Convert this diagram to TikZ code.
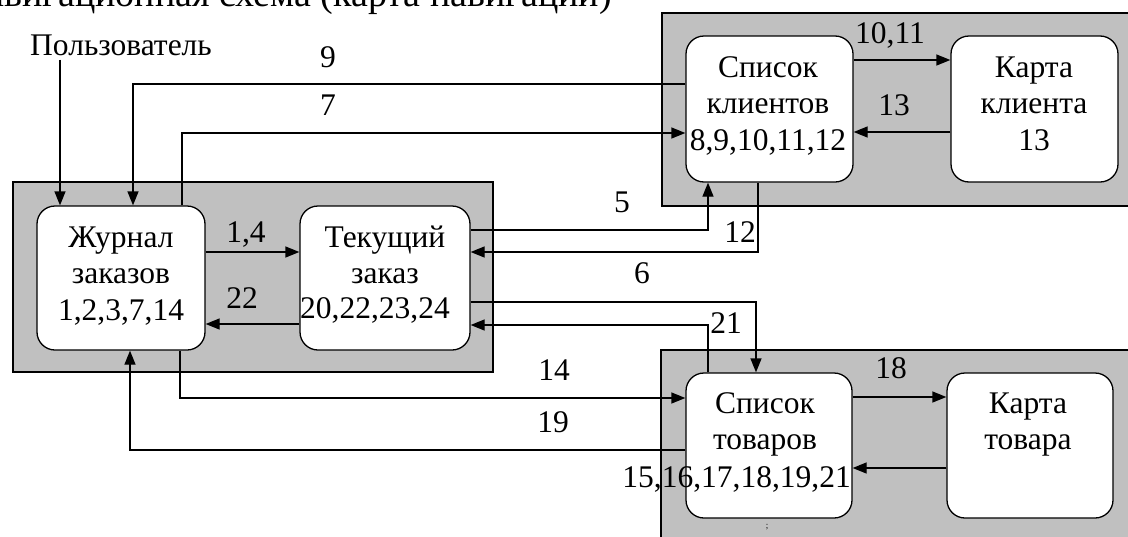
\documentclass[tikz,border=0pt]{standalone}
\usepackage{fontspec}
\setmainfont{Liberation Serif}
\usetikzlibrary{arrows.meta}
\newcommand{\mylines}[1]{\begin{tabular}[t]{@{}c@{}}#1\end{tabular}}
\definecolor{grp}{HTML}{C0C0C0}
\begin{document}
\begin{tikzpicture}[x=1pt,y=-1pt,
  every node/.style={inner sep=0pt, font=\fontsize{31.5}{36.5}\selectfont},
  grpbox/.style={draw=black, fill=grp, line width=1.3pt},
  box/.style={draw=black, fill=white, line width=1.3pt, rounded corners=18pt},
  ln/.style={line width=1.3pt},
  arr/.style={line width=1.3pt, -{Triangle[length=14pt,width=11pt]}},
  lbl/.style={anchor=base}]
\useasboundingbox (0,0) rectangle (1128,536);
\fill[white] (0,0) rectangle (1128,536);
% title (cut by the page edge)
\node[anchor=base east, font=\fontsize{38}{44}\selectfont] (title) at (612,6) {Навигационная схема (карта навигации)};
% groups
\draw[grpbox] (13,182) rectangle (493,372);
\draw[grpbox] (662,13) rectangle (1140,206);
\draw[grpbox] (661,350) rectangle (1140,550);
% boxes
\node[box, minimum width=168pt, minimum height=144pt] (zhurnal) at (121,278) {};
\node[box, minimum width=170pt, minimum height=144pt] (tekush) at (385,278) {};
\node[box, minimum width=167pt, minimum height=146pt] (spkl) at (769.5,109) {};
\node[box, minimum width=167pt, minimum height=146pt] (kartakl) at (1034.5,109) {};
\node[box, minimum width=166pt, minimum height=145pt] (sptov) at (769,445.5) {};
\node[box, minimum width=166pt, minimum height=145pt] (kartatov) at (1030,445.5) {};
% box texts
\node[anchor=base] (tzh) at (121,247) {\mylines{Журнал\\заказов\\1,2,3,7,14}};
\node[anchor=base] (tte) at (385,247) {\mylines{Текущий\\заказ}};
\node[anchor=base] (tte2) at (375,318) {20,22,23,24};
\node[anchor=base] (tspkl) at (768,77) {\mylines{Список\\клиентов\\8,9,10,11,12}};
\node[anchor=base] (tkkl) at (1034,77) {\mylines{Карта\\клиента\\13}};
\node[anchor=base] (tsptov) at (765,413) {\mylines{Список\\товаров}};
\node[anchor=base east] (tsptov2) at (851,487) {15,16,17,18,19,21};
\node[anchor=base] (tktov) at (1028,413) {\mylines{Карта\\товара}};
\node[anchor=base, font=\fontsize{9}{10}\selectfont] (mark) at (767,528) {;};
% user
\node[anchor=base west] (user) at (30,55) {Пользователь};
\draw[arr] ([xshift=30pt,yshift=-4pt]user.south west) -- (60,0 |- zhurnal.north);
% connectors
\draw[arr] (spkl.west |- 0,84) -| (133,0 |- zhurnal.north);
\draw[arr] (182,0 |- zhurnal.north) |- (spkl.west |- 0,133);
\draw[arr] (zhurnal.east |- 0,252) -- (tekush.west |- 0,252);
\draw[arr] (tekush.west |- 0,324) -- (zhurnal.east |- 0,324);
\draw[arr] (tekush.east |- 0,230) -| (708,0 |- spkl.south);
\draw[arr] (758,0 |- spkl.south) |- (tekush.east |- 0,252);
\draw[arr] (tekush.east |- 0,302) -| (756,0 |- sptov.north);
\draw[arr] (708,0 |- sptov.north) |- (tekush.east |- 0,325);
\draw[arr] (spkl.east |- 0,60) -- (kartakl.west |- 0,60);
\draw[arr] (kartakl.west |- 0,132) -- (spkl.east |- 0,132);
\draw[arr] (sptov.east |- 0,397) -- (kartatov.west |- 0,397);
\draw[arr] (kartatov.west |- 0,468) -- (sptov.east |- 0,468);
\draw[arr] (180,0 |- zhurnal.south) |- (sptov.west |- 0,398);
\draw[arr] (sptov.west |- 0,450) -| (130,0 |- zhurnal.south);
% labels
\node[lbl] (l9) at (328,67) {9};
\node[lbl] (l7) at (328,115) {7};
\node[lbl] (l14a) at (246,242) {1,4};
\node[lbl] (l22) at (242,308) {22};
\node[lbl] (l1011) at (890,43) {10,11};
\node[lbl] (l13) at (894,115) {13};
\node[lbl] (l5) at (622,212) {5};
\node[lbl] (l12) at (740,242) {12};
\node[lbl] (l6) at (642,283) {6};
\node[lbl] (l21) at (726,333) {21};
\node[lbl] (l14) at (554,380) {14};
\node[lbl] (l19) at (553,432) {19};
\node[lbl] (l18) at (891,378) {18};
\end{tikzpicture}
\end{document}
